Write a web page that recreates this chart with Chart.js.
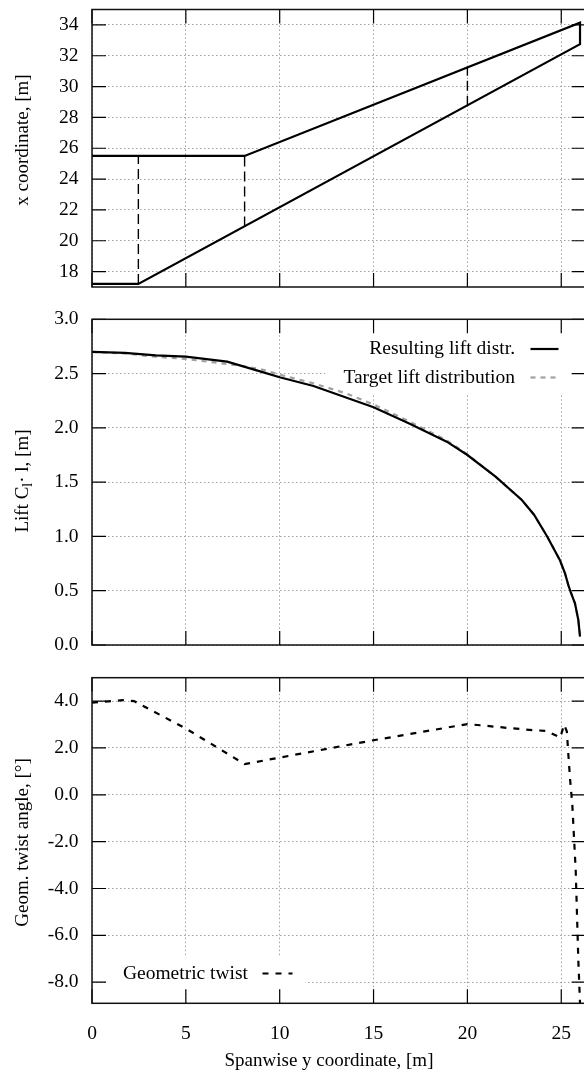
<!DOCTYPE html>
<html>
<head>
<meta charset="utf-8">
<script src="https://cdn.jsdelivr.net/npm/chart.js@4.4.1/dist/chart.umd.min.js"></script>
<style>
  html, body { margin: 0; padding: 0; background: #fff; width: 584px; height: 1072px; overflow: hidden; }
  canvas.panel { position: absolute; left: 0; }
</style>
</head>
<body>
<canvas id="planform" class="panel" width="600" height="300" style="top:0px"></canvas>
<canvas id="lift" class="panel" width="600" height="360" style="top:300px"></canvas>
<canvas id="twist" class="panel" width="600" height="412" style="top:660px"></canvas>
<script>
// shared spanwise axis
const spanTicks = [0, 5, 10, 15, 20, 25];

// wing planform: outline (span y -> chordwise x) and section cuts
const outlineSpan = [0, 2.47, 26.0, 26.0, 8.13, 0];
const outlineX = [17.2, 17.2, 32.75, 34.15, 25.5, 25.5];
const cutSpan = [2.47, 8.13, 20.0];
const cutFront = [17.2, 20.92, 28.75];
const cutRear = [25.5, 25.5, 31.3];
const planformTicks = [18, 20, 22, 24, 26, 28, 30, 32, 34];

// lift distribution Cl*l
const liftSpan = [0, 1.75, 3.4, 5.0, 7.2, 9.0, 10.0, 11.8, 15.0, 16.9, 18.9, 20.0, 21.5, 22.9, 23.55, 24.25, 24.93, 25.2, 25.38, 25.5, 25.73, 25.91, 26.0];
const liftResult = [2.70, 2.69, 2.668, 2.656, 2.61, 2.518, 2.466, 2.386, 2.19, 2.04, 1.873, 1.75, 1.55, 1.336, 1.2, 1.0, 0.78, 0.66, 0.55, 0.49, 0.384, 0.23, 0.077];
const targetSpan = [0, 1.75, 3.4, 5.0, 7.2, 8.2, 9.0, 10.0, 11.8, 13.5, 15.0, 16.9, 18.9, 20.0, 21.5, 22.9, 23.55, 24.25, 24.93, 25.2, 25.38, 25.5, 25.73, 25.91, 26.0];
const liftTarget = [2.70, 2.685, 2.655, 2.635, 2.588, 2.565, 2.54, 2.49, 2.41, 2.32, 2.215, 2.06, 1.885, 1.755, 1.55, 1.336, 1.2, 1.0, 0.78, 0.66, 0.55, 0.49, 0.384, 0.23, 0.077];
const liftTicks = [0, 0.5, 1.0, 1.5, 2.0, 2.5, 3.0];

// geometric twist, degrees
const twistSpan = [0, 1.65, 2.24, 5.0, 8.13, 10.0, 15.0, 20.0, 20.67, 22.1, 23.5, 24.2, 24.95, 25.15, 25.3, 25.38, 25.47, 25.59, 25.77, 25.91, 26.0];
const twistDeg = [3.94, 4.04, 4.0, 2.83, 1.31, 1.59, 2.33, 3.02, 2.97, 2.86, 2.76, 2.73, 2.45, 3.0, 2.7, 1.7, 0.67, -0.44, -3.22, -7.07, -8.9];
const twistTicks = [-8, -6, -4, -2, 0, 2, 4];

const SERIF = '"Liberation Serif", "Times New Roman", serif';
Chart.defaults.font.family = SERIF;
Chart.defaults.font.size = 19.5;
Chart.defaults.color = '#000';
Chart.defaults.animation = false;

const AXIS_W = 92;
const TICK_LEN = 14;
const X_MAX = 26.3;
const GRID = { color: '#a0a0a0', lineWidth: 1, drawTicks: false };
const GRID_BORDER = { display: false, dash: [1.5, 2.5] };

function pts(xs, ys) {
    return xs.map((v, i) => ({x: v, y: ys[i]}));
}

function fixedTicks(values) {
    return axis => { axis.ticks = values.map(v => ({value: v})); };
}

// frame, inward mirror ticks, key and rotated titles (gnuplot look)
const panelDecor = {
    id: 'panelDecor',
    beforeDatasetsDraw(chart, args, opts) {
        const k = opts.key;
        if (!k) return;
        const ctx = chart.ctx;
        ctx.save();
        ctx.fillStyle = '#fff';
        ctx.fillRect(k.box[0], k.box[1], k.box[2] - k.box[0], k.box[3] - k.box[1]);
        ctx.restore();
    },
    afterDraw(chart, args, opts) {
        const {ctx, chartArea: a} = chart;
        const xs = chart.scales.x, ys = chart.scales.y;
        ctx.save();
        ctx.strokeStyle = '#000';
        ctx.lineWidth = 1.2;
        ctx.beginPath();
        xs.ticks.forEach(t => {
            const px = xs.getPixelForValue(t.value);
            ctx.moveTo(px, a.bottom); ctx.lineTo(px, a.bottom - TICK_LEN);
            ctx.moveTo(px, a.top); ctx.lineTo(px, a.top + TICK_LEN);
        });
        ys.ticks.forEach(t => {
            const py = ys.getPixelForValue(t.value);
            ctx.moveTo(a.left, py); ctx.lineTo(a.left + TICK_LEN, py);
            ctx.moveTo(a.right, py); ctx.lineTo(a.right - TICK_LEN, py);
        });
        ctx.stroke();
        ctx.lineWidth = 1.5;
        ctx.strokeStyle = '#111';
        ctx.strokeRect(a.left, a.top, a.width, a.height);

        const k = opts.key;
        if (k) {
            ctx.font = '19.5px ' + SERIF;
            ctx.textAlign = 'right';
            ctx.textBaseline = 'middle';
            ctx.fillStyle = '#000';
            k.rows.forEach(r => {
                const ds = chart.data.datasets[r.dataset];
                ctx.fillText(ds.label, k.textRight, r.y);
                ctx.strokeStyle = ds.borderColor;
                ctx.lineWidth = ds.borderWidth;
                ctx.setLineDash(ds.borderDash || []);
                ctx.beginPath();
                ctx.moveTo(k.sample[0], r.y);
                ctx.lineTo(k.sample[1], r.y);
                ctx.stroke();
            });
            ctx.setLineDash([]);
        }

        (opts.titles || []).forEach(t => {
            ctx.save();
            ctx.translate(t.x, t.y);
            if (t.rotate) ctx.rotate(-Math.PI / 2);
            ctx.textBaseline = 'middle';
            ctx.textAlign = 'left';
            ctx.fillStyle = '#000';
            const parts = t.parts.map(p => ({
                text: p.text,
                font: (p.sub ? '14px ' : '19px ') + SERIF,
                dy: p.sub ? 5 : 0
            }));
            let total = 0;
            parts.forEach(p => { ctx.font = p.font; p.w = ctx.measureText(p.text).width; total += p.w; });
            let cx = -total / 2;
            parts.forEach(p => {
                ctx.font = p.font;
                ctx.fillText(p.text, cx, p.dy);
                cx += p.w;
            });
            ctx.restore();
        });
        ctx.restore();
    }
};

function panelOptions(cfg) {
    return {
        responsive: false,
        layout: { padding: { top: cfg.top, right: 600 - (AXIS_W + X_MAX * 18.77), left: 0, bottom: 0 } },
        scales: {
            x: {
                type: 'linear',
                min: 0,
                max: X_MAX,
                afterBuildTicks: fixedTicks(spanTicks),
                afterFit: s => { s.height = cfg.xHeight; s.paddingLeft = 0; s.paddingRight = 0; },
                grid: GRID,
                border: GRID_BORDER,
                ticks: { display: cfg.xLabels, padding: 19, callback: v => String(v) }
            },
            y: {
                type: 'linear',
                min: cfg.yMin,
                max: cfg.yMax,
                afterBuildTicks: fixedTicks(cfg.yTicks),
                afterFit: s => { s.width = AXIS_W; s.paddingTop = 0; s.paddingBottom = 0; },
                grid: GRID,
                border: GRID_BORDER,
                ticks: { padding: 13.5, callback: cfg.yFormat }
            }
        },
        plugins: {
            legend: { display: false },
            tooltip: { enabled: false },
            panelDecor: { key: cfg.key, titles: cfg.titles }
        }
    };
}

// top: planform
const cutSets = cutSpan.map((s, i) => ({
    label: 'cut ' + i,
    data: pts([s, s], [cutFront[i], cutRear[i]]),
    showLine: true, pointRadius: 0,
    borderColor: '#000', borderWidth: 1.4, borderDash: [10, 5]
}));
new Chart(document.getElementById('planform'), {
    type: 'scatter',
    data: {
        datasets: [{
            label: 'Planform',
            data: pts(outlineSpan, outlineX),
            showLine: true, pointRadius: 0,
            borderColor: '#000', borderWidth: 2.2
        }].concat(cutSets)
    },
    options: panelOptions({
        top: 9.5, xHeight: 13, xLabels: false,
        yMin: 17, yMax: 35, yTicks: planformTicks, yFormat: v => String(v),
        titles: [{ x: 23.5, y: 140, rotate: true, parts: [{ text: 'x coordinate, [m]' }] }]
    }),
    plugins: [panelDecor]
});

// middle: lift distribution
new Chart(document.getElementById('lift'), {
    type: 'scatter',
    data: {
        datasets: [{
            label: 'Resulting lift distr.',
            data: pts(liftSpan, liftResult),
            showLine: true, pointRadius: 0, order: 0,
            borderColor: '#000', borderWidth: 2.2
        }, {
            label: 'Target lift distribution',
            data: pts(targetSpan, liftTarget),
            showLine: true, pointRadius: 0, order: 1,
            borderColor: '#a0a0a0', borderWidth: 2.2, borderDash: [5, 5]
        }]
    },
    options: panelOptions({
        top: 19.3, xHeight: 15, xLabels: false,
        yMin: 0, yMax: 3, yTicks: liftTicks, yFormat: v => v.toFixed(1),
        key: {
            box: [325, 33, 571, 94],
            textRight: 515, sample: [530.5, 558.5],
            rows: [{ dataset: 0, y: 49 }, { dataset: 1, y: 77.5 }]
        },
        titles: [{ x: 23.5, y: 181, rotate: true, parts: [
            { text: 'Lift C' }, { text: 'l', sub: true }, { text: '\u00b7 l, [m]' }
        ] }]
    }),
    plugins: [panelDecor]
});

// bottom: geometric twist
new Chart(document.getElementById('twist'), {
    type: 'scatter',
    data: {
        datasets: [{
            label: 'Geometric twist',
            data: pts(twistSpan, twistDeg),
            showLine: true, pointRadius: 0,
            borderColor: '#000', borderWidth: 2.2, borderDash: [6, 7]
        }]
    },
    options: panelOptions({
        top: 17.7, xHeight: 68.7, xLabels: true,
        yMin: -8.9, yMax: 5, yTicks: twistTicks, yFormat: v => v.toFixed(1),
        key: {
            box: [106, 297, 305, 330],
            textRight: 248, sample: [262.5, 292.5],
            rows: [{ dataset: 0, y: 313.5 }]
        },
        titles: [
            { x: 23.5, y: 182.5, rotate: true, parts: [{ text: 'Geom. twist angle, [\u00b0]' }] },
            { x: 329, y: 401.5, rotate: false, parts: [{ text: 'Spanwise y coordinate, [m]' }] }
        ]
    }),
    plugins: [panelDecor]
});
</script>
</body>
</html>
